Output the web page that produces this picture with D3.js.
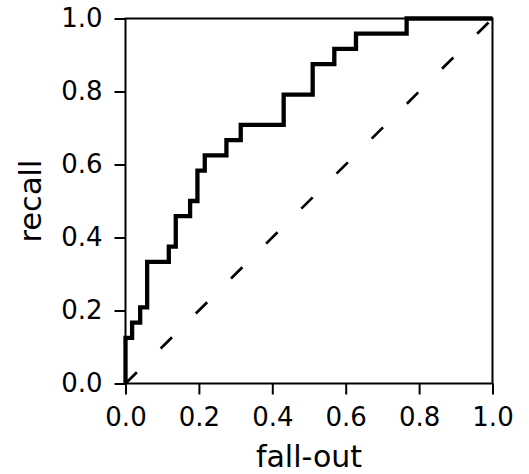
<!DOCTYPE html>
<html><head><meta charset="utf-8">
<script src="https://cdn.jsdelivr.net/npm/d3@7"></script>
<style>body{margin:0;background:#fff}text{font-family:"DejaVu Sans",sans-serif}</style>
</head><body>
<script>
// ROC curve data: false positive rate (fall-out) and true positive rate (recall)
const fallOut = [0, 0, 0.018, 0.04, 0.059, 0.118, 0.137, 0.176, 0.196, 0.216, 0.275, 0.314, 0.431, 0.51, 0.569, 0.628, 0.766, 1.0];
const recall  = [0, 0.125, 0.1667, 0.2083, 0.3333, 0.375, 0.4583, 0.5, 0.5833, 0.625, 0.6667, 0.7083, 0.7917, 0.875, 0.9167, 0.9583, 1.0, 1.0];
const chanceX = [0, 1];
const chanceY = [0, 1];
const tickValues = [0, 0.2, 0.4, 0.6, 0.8, 1.0];
const xLabel = "fall-out";
const yLabel = "recall";

const W = 529, H = 474;
const m = {left: 125.5, right: 529 - 492.5, top: 18.5, bottom: 474 - 383.5};
const svg = d3.select("body").append("svg").attr("width", W).attr("height", H);
const x = d3.scaleLinear().domain([0, 1]).range([m.left, W - m.right]);
const y = d3.scaleLinear().domain([0, 1]).range([H - m.bottom, m.top]);

// chance diagonal
svg.append("path")
  .datum(chanceX.map((v, i) => [v, chanceY[i]]))
  .attr("d", d3.line().x(d => x(d[0])).y(d => y(d[1])))
  .attr("fill", "none").attr("stroke", "#000").attr("stroke-width", 2.7)
  .attr("stroke-dasharray", "16 33.6");

// ROC step curve
svg.append("path")
  .datum(fallOut.map((v, i) => [v, recall[i]]))
  .attr("d", d3.line().x(d => x(d[0])).y(d => y(d[1])).curve(d3.curveStepAfter))
  .attr("fill", "none").attr("stroke", "#000").attr("stroke-width", 4.3)
  .attr("stroke-linejoin", "miter");

// axes
const fmt = d3.format(".1f");
const xAxis = svg.append("g").attr("transform", `translate(0,${y(0)})`)
  .call(d3.axisBottom(x).tickValues(tickValues).tickFormat(fmt).tickSize(11).tickPadding(13));
const yAxis = svg.append("g").attr("transform", `translate(${x(0)},0)`)
  .call(d3.axisLeft(y).tickValues(tickValues).tickFormat(fmt).tickSize(11).tickPadding(12));
[xAxis, yAxis].forEach(g => {
  g.select(".domain").remove();
  g.selectAll(".tick line").attr("stroke", "#000").attr("stroke-width", 2);
  g.selectAll(".tick text").attr("fill", "#000").style("font-size", "26px").style("font-family", "DejaVu Sans");
});
xAxis.selectAll(".tick text").attr("dy", "0.71em");

// frame
svg.append("rect").attr("x", x(0)).attr("y", y(1))
  .attr("width", x(1) - x(0)).attr("height", y(0) - y(1))
  .attr("fill", "none").attr("stroke", "#000").attr("stroke-width", 2);

// labels
svg.append("text").attr("x", (x(0) + x(1)) / 2).attr("y", 466.5)
  .attr("text-anchor", "middle").style("font-size", "30px").text(xLabel);
svg.append("text").attr("transform", `translate(41,${(y(0) + y(1)) / 2}) rotate(-90)`)
  .attr("text-anchor", "middle").style("font-size", "30.5px").text(yLabel);
</script>
</body></html>
